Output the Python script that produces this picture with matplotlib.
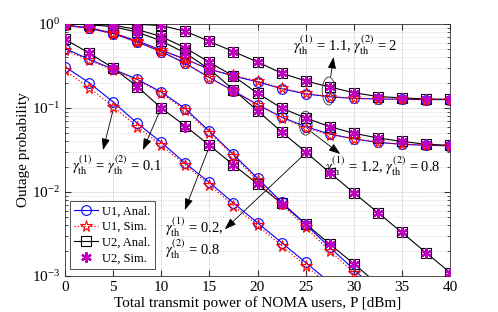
import numpy as np
import matplotlib
matplotlib.use('Agg')
import matplotlib.pyplot as plt
from matplotlib.patches import Ellipse

plt.rcParams['font.family'] = 'serif'
plt.rcParams['font.serif'] = ['Liberation Serif', 'DejaVu Serif']
plt.rcParams['mathtext.fontset'] = 'stix'

# transmit power grid (dBm)
P = [0, 2.5, 5, 7.5, 10, 12.5, 15, 17.5, 20, 22.5, 25, 27.5, 30, 32.5, 35, 37.5, 40]

# gamma1 = gamma2 = 0.1
a_u1_anal = [0.31, 0.20, 0.118, 0.066, 0.039, 0.022, 0.013, 0.0074, 0.0043, 0.0025, 0.00145, 0.00084]
a_u1_sim = [0.28, 0.175, 0.104, 0.060, 0.036, 0.021, 0.0122, 0.0069, 0.0040, 0.0023, 0.00133, 0.00078]
a_u2_anal = [0.66, 0.45, 0.30, 0.18, 0.10, 0.061, 0.036, 0.021, 0.0125, 0.0073, 0.0042, 0.0024, 0.0014, 0.0008]
a_u2_sim = [0.655, 0.45, 0.30, 0.18, 0.101, 0.060, 0.036, 0.021, 0.0124, 0.0072, 0.0042, 0.0024, 0.0014, 0.0008]

# gamma1 = 0.2, gamma2 = 0.8
b_u1_anal = [0.51, 0.38, 0.29, 0.22, 0.155, 0.098, 0.053, 0.028, 0.0146, 0.0076, 0.0041, 0.0022, 0.0012, 0.00065]
b_u1_sim = [0.49, 0.37, 0.285, 0.215, 0.15, 0.094, 0.051, 0.027, 0.0138, 0.0072, 0.0038, 0.0020, 0.0011, 0.0006]
b_u2_anal = [1.0, 0.98, 0.93, 0.80, 0.63, 0.45, 0.29, 0.165, 0.093, 0.052, 0.030, 0.017, 0.0098, 0.0057, 0.0033, 0.0019, 0.0011]
b_u2_sim = [1.0, 0.98, 0.93, 0.80, 0.63, 0.45, 0.29, 0.164, 0.092, 0.052, 0.030, 0.017, 0.0097, 0.0057, 0.0033, 0.0019, 0.0011]

# gamma1 = 1.1, gamma2 = 2
c_u1_anal = [0.97, 0.90, 0.78, 0.63, 0.49, 0.38, 0.29, 0.24, 0.205, 0.17, 0.147, 0.136, 0.13, 0.128, 0.127, 0.126, 0.126]
c_u1_sim = [0.96, 0.90, 0.78, 0.62, 0.49, 0.38, 0.29, 0.245, 0.21, 0.172, 0.15, 0.137, 0.131, 0.128, 0.127, 0.126, 0.126]
c_u2_anal = [1.0, 1.0, 1.0, 0.99, 0.96, 0.82, 0.62, 0.47, 0.353, 0.26, 0.21, 0.178, 0.152, 0.137, 0.132, 0.128, 0.127]
c_u2_sim = [1.0, 1.0, 1.0, 0.99, 0.96, 0.82, 0.62, 0.47, 0.35, 0.26, 0.21, 0.177, 0.151, 0.137, 0.131, 0.128, 0.127]

# gamma1 = 1.2, gamma2 = 0.8
d_u1_anal = [0.97, 0.89, 0.77, 0.61, 0.47, 0.34, 0.23, 0.16, 0.11, 0.078, 0.060, 0.049, 0.043, 0.039, 0.037, 0.036, 0.0355]
d_u1_sim = [0.96, 0.89, 0.76, 0.61, 0.47, 0.34, 0.23, 0.158, 0.11, 0.077, 0.058, 0.048, 0.043, 0.039, 0.037, 0.036, 0.0355]
d_u2_anal = [1.0, 1.0, 0.97, 0.86, 0.71, 0.52, 0.35, 0.24, 0.15, 0.10, 0.076, 0.06, 0.05, 0.044, 0.040, 0.037, 0.036]
d_u2_sim = [1.0, 1.0, 0.97, 0.86, 0.71, 0.52, 0.35, 0.24, 0.15, 0.10, 0.076, 0.059, 0.05, 0.044, 0.040, 0.037, 0.036]

scenarios = [
    (a_u1_anal, a_u1_sim, a_u2_anal, a_u2_sim),
    (b_u1_anal, b_u1_sim, b_u2_anal, b_u2_sim),
    (c_u1_anal, c_u1_sim, c_u2_anal, c_u2_sim),
    (d_u1_anal, d_u1_sim, d_u2_anal, d_u2_sim),
]

fig = plt.figure(figsize=(4.98, 3.12), dpi=100)
ax = fig.add_axes([65 / 498, 36 / 312, 385 / 498, 252 / 312])

asterisk = (6, 2, 0)
for i, (u1a, u1s, u2a, u2s) in enumerate(scenarios):
    lab = i == 0
    ax.plot(P[:len(u1a)], u1a, '-', color='b', lw=0.8, marker='o', ms=7, mfc='none', mew=0.8,
            label='U1, Anal.' if lab else None, zorder=3)
    ax.plot(P[:len(u1s)], u1s, ':', color='r', lw=0.9, marker='*', ms=8.5, mfc='none', mew=0.8,
            label='U1, Sim.' if lab else None, zorder=4)
    ax.plot(P[:len(u2a)], u2a, '-', color='k', lw=0.8, marker='s', ms=6.5, mfc='none', mew=0.8,
            label='U2, Anal.' if lab else None, zorder=3)
    ax.plot(P[:len(u2s)], u2s, ls='none', color='m', marker=asterisk, ms=7.5, mew=1.6,
            label='U2, Sim.' if lab else None, zorder=5)

ax.set_yscale('log')
ax.set_xlim(0, 40)
ax.set_ylim(1e-3, 1)
ax.set_xticks(np.arange(0, 41, 5))
ax.grid(True, which='major', color='0.87', lw=0.6, ls='-')
ax.grid(True, which='minor', axis='y', color='0.8', lw=0.6, ls=(0, (1, 2)))
ax.set_axisbelow(True)
ax.tick_params(which='both', direction='in', top=True, right=True, labelsize=11, color='0.2')
ax.tick_params(which='major', length=4)
ax.tick_params(which='minor', length=2)
for s in ax.spines.values():
    s.set_color('0.2')
    s.set_linewidth(0.6)

ax.set_xlabel('Total transmit power of NOMA users, P [dBm]', fontsize=11, labelpad=2)
ax.set_ylabel('Outage probability', fontsize=11, labelpad=1)

leg = ax.legend(loc='lower left', bbox_to_anchor=(0.013, 0.028), borderaxespad=0, fontsize=9,
                handlelength=1.9, handletextpad=0.3, labelspacing=0.3, borderpad=0.35,
                fancybox=False, framealpha=1, edgecolor='0.2')
leg.get_frame().set_linewidth(0.6)

fs = 10.5
ax.text(29.1, 0.56, r'$\gamma_{\rm th}^{(1)}$ = 1.1, $\gamma_{\rm th}^{(2)}$ = 2', fontsize=fs, ha='center', va='center')
ax.text(33.0, 0.0204, r'$\gamma_{\rm th}^{(1)}$ = 1.2, $\gamma_{\rm th}^{(2)}$ = 0.8', fontsize=fs, ha='center', va='center')
ax.text(5.4, 0.021, r'$\gamma_{\rm th}^{(1)}$ = $\gamma_{\rm th}^{(2)}$ = 0.1', fontsize=fs, ha='center', va='center')
ax.text(10.4, 0.0038, r'$\gamma_{\rm th}^{(1)}$ = 0.2,', fontsize=fs, ha='left', va='center')
ax.text(10.4, 0.0021, r'$\gamma_{\rm th}^{(2)}$ = 0.8', fontsize=fs, ha='left', va='center')

arrows = [
    ((5.0, 0.095), (3.95, 0.0316)),
    ((9.9, 0.095), (8.1, 0.0316)),
    ((15.05, 0.036), (12.45, 0.0061)),
    ((25.0, 0.029), (16.6, 0.0036)),
    ((27.6, 0.234), (27.9, 0.405)),
    ((25.6, 0.052), (28.6, 0.0283)),
]
for tail, head in arrows:
    ax.annotate('', xy=head, xytext=tail,
                arrowprops=dict(arrowstyle='-|>,head_length=0.7,head_width=0.25', color='k', lw=0.6,
                                shrinkA=0, shrinkB=0))

# ellipses drawn in axes fraction so they are not warped by the log scale
for pc, vc, w, h in [(27.4, 0.159, 13, 28), (25.0, 0.066, 13, 24)]:
    ax.add_patch(Ellipse((pc / 40, (np.log10(vc) + 3) / 3), w / 385, h / 252,
                         transform=ax.transAxes, fill=False, ec='0.2', lw=0.6, zorder=6))

fig.savefig('out.png', dpi=100)
